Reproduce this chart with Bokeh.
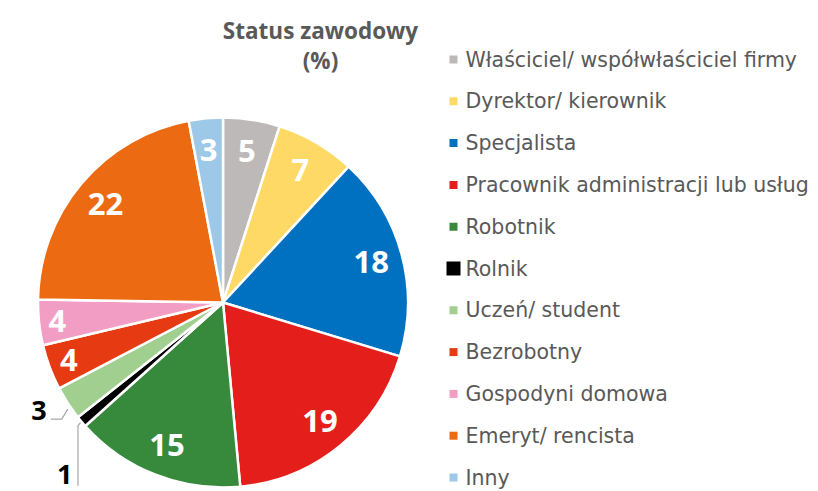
import math
from bokeh.plotting import figure
from bokeh.models import Range1d
from bokeh.core.properties import value
from bokeh.embed import file_html
from bokeh.resources import INLINE

# ---- data ----
categories = ["Właściciel/ współwłaściciel firmy", "Dyrektor/ kierownik", "Specjalista",
              "Pracownik administracji lub usług", "Robotnik", "Rolnik", "Uczeń/ student",
              "Bezrobotny", "Gospodyni domowa", "Emeryt/ rencista", "Inny"]
values = [5, 7, 18, 19, 15, 1, 3, 4, 4, 22, 3]
colors = ["#BDB9B9", "#FFD966", "#0070C0", "#E41E1A", "#378A3C", "#000000", "#A0CF8F",
          "#E63B12", "#F29EC4", "#EC6A12", "#9DC8E8"]
title_lines = ["Status zawodowy", "(%)"]

# label radius as fraction of pie radius (style)
label_rf = [0.83, 0.83, 0.83, 0.83, 0.83, 0.83, 0.83, 0.89, 0.9, 0.83, 0.83]

W, H = 810, 491
p = figure(width=W, height=H, output_backend="svg", toolbar_location=None,
           x_range=Range1d(0, W), y_range=Range1d(0, H),
           x_axis_location=None, y_axis_location=None, min_border=0)
p.grid.visible = False
p.outline_line_color = None
p.background_fill_color = "white"

cx, cy, R = 222.5, 189, 185
total = sum(values)
cum = 0
starts, ends, mids = [], [], []
for v in values:
    a0 = math.pi / 2 - cum / total * 2 * math.pi
    cum += v
    a1 = math.pi / 2 - cum / total * 2 * math.pi
    starts.append(a0); ends.append(a1); mids.append((a0 + a1) / 2)

p.wedge(x=[cx] * len(values), y=[cy] * len(values), radius=R,
        start_angle=starts, end_angle=ends, direction="clock",
        fill_color=colors, line_color="white", line_width=2.5)

FONT = "Open Sans"
LFONT = "DejaVu Sans"
# inside labels
outside = {5, 6}
lx, ly, lt = [], [], []
for i, v in enumerate(values):
    if i in outside:
        continue
    r = label_rf[i] * R
    lx.append(cx + r * math.cos(mids[i])); ly.append(cy + r * math.sin(mids[i])); lt.append(str(v))
p.text(x=lx, y=ly, text=lt, text_color="white", text_font=value(FONT),
       text_font_style="bold", text_font_size="31px", text_align="center", text_baseline="middle")

# outside labels with leader lines
# Uczeń/ student
i = 6
ex, ey = cx + R * math.cos(mids[i]), cy + R * math.sin(mids[i])
p.line(x=[ex, ex - 6, ex - 17], y=[ey - 6, ey - 16, ey - 16], line_color="#A6A6A6", line_width=1.2)
p.text(x=[ex - 21], y=[ey - 7], text=[str(values[i])], text_color="black", text_font=value(FONT),
       text_font_style="bold", text_font_size="27px", text_align="right", text_baseline="middle")
# Rolnik
i = 5
ex, ey = cx + R * math.cos(mids[i]), cy + R * math.sin(mids[i])
p.line(x=[ex - 1, ex - 3.5, ex - 3.5], y=[ey - 1, ey - 4, ey - 64], line_color="#A6A6A6", line_width=1.2)
p.text(x=[ex - 9], y=[ey - 53], text=[str(values[i])], text_color="black", text_font=value(FONT),
       text_font_style="bold", text_font_size="27px", text_align="right", text_baseline="middle")

# title
p.text(x=[320, 320], y=[461, 431], text=title_lines, text_color="#595959", text_font=value(FONT),
       text_font_style="bold", text_font_size="22.5px", text_align="center", text_baseline="middle")

# legend
y0, dy = 432, 41.8
leg_y = [y0 - k * dy for k in range(len(categories))]
sizes = [8] * len(categories)
sizes[5] = 14
p.scatter(x=[453] * len(categories), y=leg_y, marker="square", size=sizes,
          fill_color=colors, line_color=None)
p.text(x=[465] * len(categories), y=leg_y, text=categories, text_color="#595959",
       text_font=value(LFONT), text_font_size="20.5px", text_align="left", text_baseline="middle")

open("out.html", "w").write(file_html(p, INLINE))
